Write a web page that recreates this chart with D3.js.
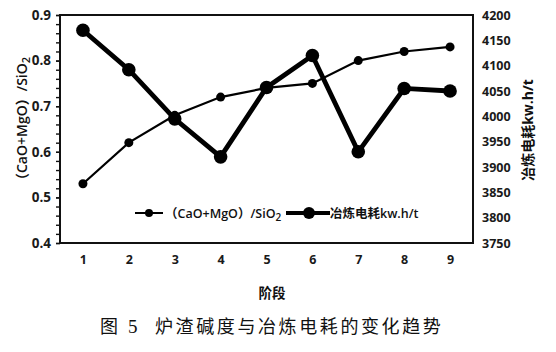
<!DOCTYPE html>
<html><head><meta charset="utf-8">
<script src="https://cdn.jsdelivr.net/npm/d3@7/dist/d3.min.js"></script>
<style>body{margin:0;background:#fff}svg{display:block}</style>
</head><body>
<svg id="c" width="556" height="352"></svg>
<script>
const stages = ["1","2","3","4","5","6","7","8","9"];
const basicity = [0.53,0.62,0.68,0.72,0.74,0.75,0.80,0.82,0.83];
const energy = [4170,4092,3995,3920,4057,4120,3930,4055,4050];
const leftTicks = [0.4,0.5,0.6,0.7,0.8,0.9];
const rightTicks = [3750,3800,3850,3900,3950,4000,4050,4100,4150,4200];

const svg = d3.select("#c");
const L=60,T=15,R=473,B=243;
const x = d3.scalePoint().domain(stages).range([L,R]).padding(0.5);
const yL = d3.scaleLinear().domain([0.4,0.9]).range([B,T]);
const yR = d3.scaleLinear().domain([3750,4200]).range([B,T]);
const font = "'Open Sans','Noto Sans CJK SC',sans-serif";

// left axis with minor ticks
const minor = d3.range(0.4,0.9001,0.02);
svg.append("g").attr("transform",`translate(${L},0)`)
  .call(d3.axisLeft(yL).tickValues(minor).tickSize(4).tickFormat(""))
  .call(g=>g.select(".domain").remove())
  .call(g=>g.selectAll("line").attr("stroke","#111").attr("stroke-width",1.4));
svg.append("g").attr("transform",`translate(${L},0)`)
  .call(d3.axisLeft(yL).tickValues(leftTicks).tickSize(4).tickPadding(5).tickFormat(d3.format(".1f")))
  .call(g=>g.select(".domain").remove())
  .call(g=>g.selectAll("line").attr("stroke","#111").attr("stroke-width",1.4))
  .call(g=>g.selectAll("text").attr("font-family",font).attr("font-size",13.5).attr("font-weight","bold").attr("fill","#1a1a1a"));

// right axis (labels only)
svg.append("g").attr("transform",`translate(${R},0)`)
  .call(d3.axisRight(yR).tickValues(rightTicks).tickSize(0).tickPadding(9).tickFormat(d3.format("d")))
  .call(g=>g.select(".domain").remove())
  .call(g=>g.selectAll("text").attr("font-family",font).attr("font-size",12.5).attr("font-weight","bold").attr("fill","#1a1a1a"));

// x axis labels
svg.append("g").attr("transform",`translate(0,${B})`)
  .call(d3.axisBottom(x).tickSize(0).tickPadding(12))
  .call(g=>g.select(".domain").remove())
  .call(g=>g.selectAll("text").attr("font-family",font).attr("font-size",12.5).attr("font-weight","bold").attr("fill","#1a1a1a"));

// plot box
svg.append("rect").attr("x",L).attr("y",T).attr("width",R-L).attr("height",B-T)
  .attr("fill","none").attr("stroke","#111").attr("stroke-width",2);

// series
const line1 = d3.line().x((d,i)=>x(stages[i])).y(d=>yL(d));
const line2 = d3.line().x((d,i)=>x(stages[i])).y(d=>yR(d));
svg.append("path").datum(basicity).attr("d",line1).attr("fill","none").attr("stroke","#000").attr("stroke-width",2.2);
svg.selectAll(".p1").data(basicity).enter().append("circle")
  .attr("cx",(d,i)=>x(stages[i])).attr("cy",d=>yL(d)).attr("r",4.5).attr("fill","#000");
svg.append("path").datum(energy).attr("d",line2).attr("fill","none").attr("stroke","#000").attr("stroke-width",4.8);
svg.selectAll(".p2").data(energy).enter().append("circle")
  .attr("cx",(d,i)=>x(stages[i])).attr("cy",d=>yR(d)).attr("r",6.8).attr("fill","#000");

// legend
const ly=213;
svg.append("line").attr("x1",135).attr("x2",163).attr("y1",ly).attr("y2",ly).attr("stroke","#000").attr("stroke-width",2);
svg.append("circle").attr("cx",149).attr("cy",ly).attr("r",4).attr("fill","#000");
const t1 = svg.append("text").attr("x",165).attr("y",ly+4.5).attr("font-family",font).attr("font-size",12.5).attr("font-weight",600).attr("fill","#111");
t1.append("tspan").text("（CaO+MgO）/SiO");
t1.append("tspan").text("2").attr("font-size",10).attr("dy",3);
svg.append("line").attr("x1",286).attr("x2",330).attr("y1",ly).attr("y2",ly).attr("stroke","#000").attr("stroke-width",4);
svg.append("circle").attr("cx",309).attr("cy",ly).attr("r",6).attr("fill","#000");
svg.append("text").attr("x",330).attr("y",ly+4.5).attr("font-family",font).attr("font-size",12.5).attr("font-weight",600).attr("fill","#111").text("冶炼电耗kw.h/t");

// axis titles
const tl = svg.append("text").attr("transform","translate(27,122) rotate(-90)").attr("text-anchor","middle")
  .attr("font-family",font).attr("font-size",14).attr("font-weight",600).attr("fill","#111");
tl.append("tspan").text("（CaO+MgO）/SiO");
tl.append("tspan").text("2").attr("font-size",11).attr("dy",3);
svg.append("text").attr("transform","translate(533,130) rotate(-90)").attr("text-anchor","middle")
  .attr("font-family",font).attr("font-size",14).attr("font-weight","bold").attr("fill","#111").text("冶炼电耗kw.h/t");
svg.append("text").attr("x",272).attr("y",298).attr("text-anchor","middle")
  .attr("font-family",font).attr("font-size",13.5).attr("font-weight","bold").attr("fill","#111").text("阶段");

// caption
const capFont = "'Noto Sans CJK SC',sans-serif";
svg.append("text").attr("x",100).attr("y",333).attr("font-family",capFont).attr("font-size",18).attr("fill","#111").text("图");
svg.append("text").attr("x",128).attr("y",333).attr("font-family","'Liberation Serif',serif").attr("font-size",19).attr("fill","#111").text("5");
svg.append("text").attr("x",155).attr("y",333).attr("font-family",capFont).attr("font-size",18).attr("letter-spacing",2.6).attr("fill","#111").text("炉渣碱度与冶炼电耗的变化趋势");
</script>
</body></html>
